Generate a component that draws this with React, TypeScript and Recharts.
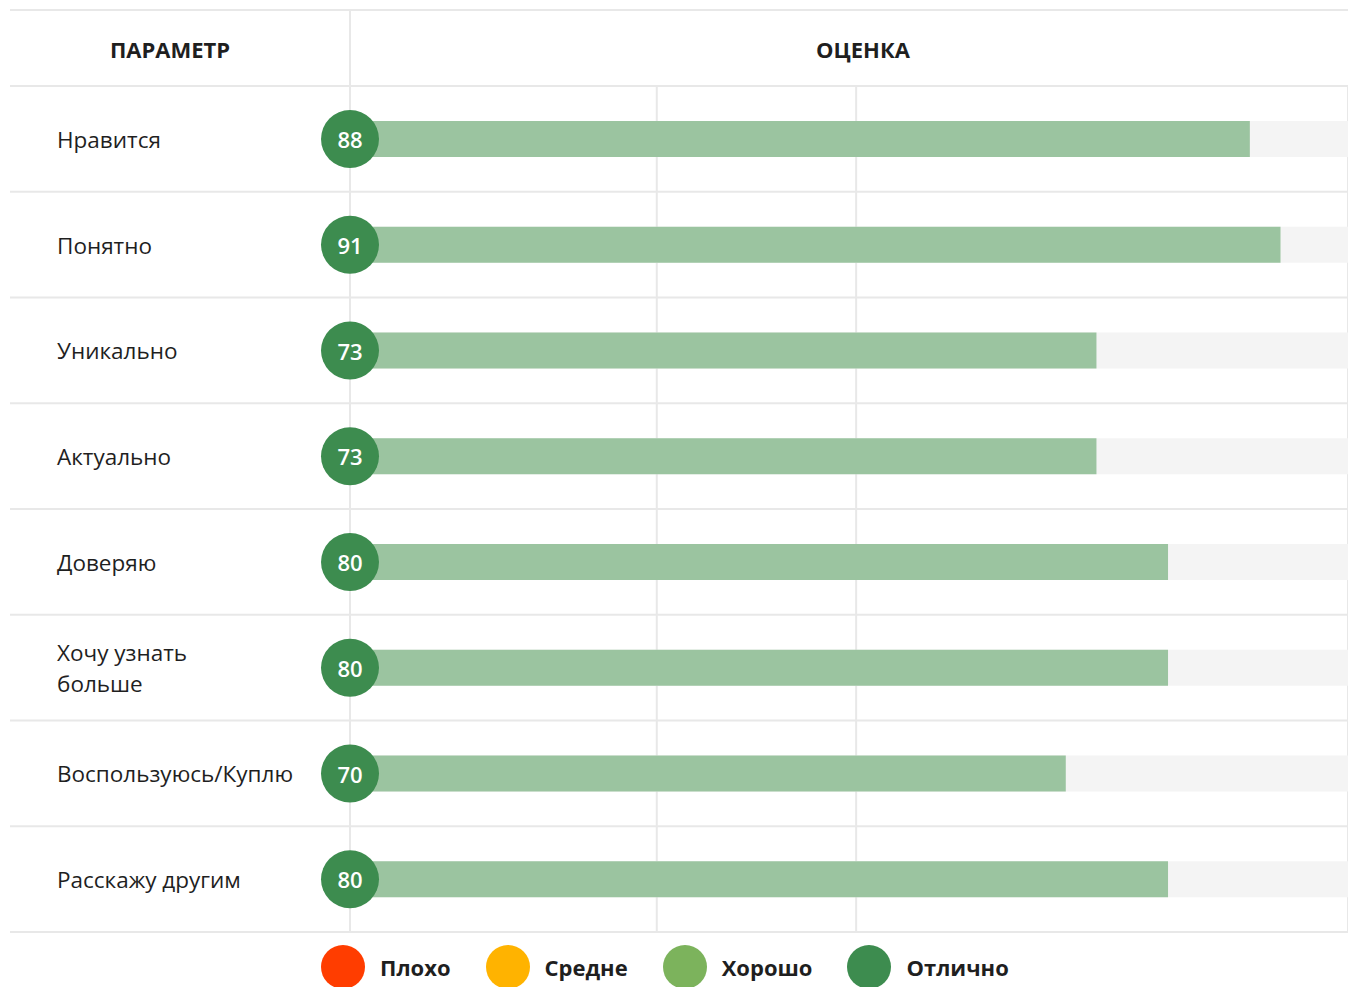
import { BarChart, Bar, XAxis, YAxis, CartesianGrid, LabelList, Legend, Customized } from 'recharts';

// Row labels ("\n" marks a manual line break) and scores
const categories = [
  'Нравится',
  'Понятно',
  'Уникально',
  'Актуально',
  'Доверяю',
  'Хочу узнать\nбольше',
  'Воспользуюсь/Куплю',
  'Расскажу другим',
];
const scores = [88, 91, 73, 73, 80, 80, 70, 80];

const headers = ['ПАРАМЕТР', 'ОЦЕНКА'];
const legendLabels = ['Плохо', 'Средне', 'Хорошо', 'Отлично'];
const legendColors = ['#ff3d00', '#ffb300', '#7cb35c', '#3d8c4f'];

// column dividers in the score area, in score units
const columnTicks = [0, 30, 49.5];

const W = 1348;
const H = 987;
const TOP = 86;
const BOTTOM = 55;
const AXIS_W = 350;
const ROW_H = (H - TOP - BOTTOM) / categories.length;
const LINE = '#e8e8e8';
const TEXT = '#1f1f1f';

const data = categories.map((name, i) => ({ name, score: scores[i] }));

function CategoryTick(props: any) {
  const { y, payload, index } = props;
  const lines = String(payload.value).split('\n');
  const lh = 31;
  return (
    <g>
      {index === 0 && (
        <line x1={10} x2={W} y1={y - ROW_H / 2} y2={y - ROW_H / 2} stroke={LINE} strokeWidth={2} />
      )}
      <line x1={10} x2={W} y1={y + ROW_H / 2} y2={y + ROW_H / 2} stroke={LINE} strokeWidth={2} />
      <text
        x={57}
        y={y - ((lines.length - 1) * lh) / 2}
        dominantBaseline="central"
        fontSize={22.5}
        fill={TEXT}
      >
        {lines.map((l, i) => (
          <tspan key={i} x={57} dy={i ? lh : 0}>
            {l}
          </tspan>
        ))}
      </text>
    </g>
  );
}

function ScoreBadge(props: any) {
  const { x, y, height, value } = props;
  const cy = Number(y) + Number(height) / 2;
  return (
    <g>
      <circle cx={x} cy={cy} r={29} fill="#3d8c4f" />
      <text x={x} y={cy} textAnchor="middle" dominantBaseline="central" fill="#fff" fontSize={22} fontWeight={600}>
        {value}
      </text>
    </g>
  );
}

function Header() {
  return (
    <g>
      <line x1={10} x2={W} y1={10} y2={10} stroke={LINE} strokeWidth={2} />
      <line x1={AXIS_W} x2={AXIS_W} y1={10} y2={TOP} stroke={LINE} strokeWidth={2} />
      <text x={170} y={49} textAnchor="middle" dominantBaseline="central" fontSize={22} fontWeight={700} fill={TEXT}>
        {headers[0]}
      </text>
      <text x={863} y={49} textAnchor="middle" dominantBaseline="central" fontSize={22} fontWeight={700} fill={TEXT}>
        {headers[1]}
      </text>
    </g>
  );
}

function ScaleLegend() {
  return (
    <div style={{ display: 'flex', alignItems: 'center', fontFamily: 'Open Sans', paddingLeft: 321 }}>
      {legendLabels.map((l, i) => (
        <div key={l} style={{ display: 'flex', alignItems: 'center', marginRight: 35 }}>
          <span
            style={{
              width: 44,
              height: 44,
              borderRadius: '50%',
              background: legendColors[i],
              display: 'inline-block',
              marginRight: 15,
            }}
          />
          <span style={{ fontSize: 22, fontWeight: 700, color: TEXT }}>{l}</span>
        </div>
      ))}
    </div>
  );
}

export default function App() {
  return (
    <div style={{ position: 'absolute', left: 0, top: 0, fontFamily: 'Open Sans', background: '#fff' }}>
      <BarChart
        width={W}
        height={H}
        data={data}
        layout="vertical"
        margin={{ top: TOP, right: 0, bottom: BOTTOM - 44, left: 0 }}
        barSize={36}
      >
        <CartesianGrid horizontal={false} stroke={LINE} strokeWidth={2} />
        <XAxis type="number" domain={[0, 97.6]} ticks={columnTicks} hide />
        <YAxis
          type="category"
          dataKey="name"
          width={AXIS_W}
          tickLine={false}
          axisLine={false}
          tick={<CategoryTick />}
        />
        <Bar dataKey="score" fill="#9bc4a0" background={{ fill: '#f4f4f4' }} isAnimationActive={false}>
          <LabelList dataKey="score" content={<ScoreBadge />} />
        </Bar>
        <Legend verticalAlign="bottom" height={44} content={<ScaleLegend />} wrapperStyle={{ left: 0, bottom: -2 }} />
        <Customized component={Header} />
      </BarChart>
    </div>
  );
}
